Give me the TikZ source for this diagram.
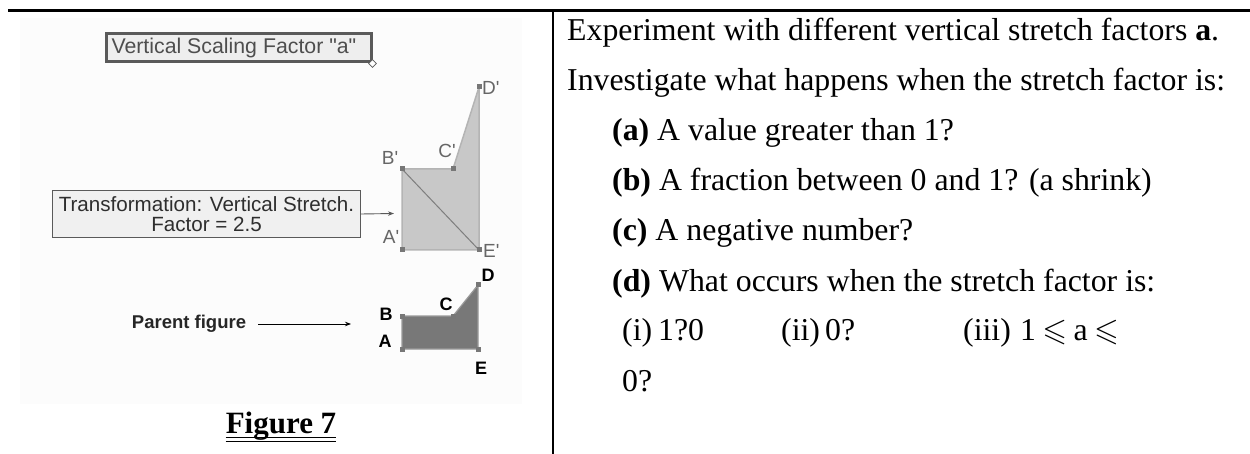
\documentclass[tikz,border=0pt]{standalone}
\usepackage{amssymb}
\usepackage{fontspec}
\setmainfont{Liberation Serif}
\newfontfamily\sansf{Liberation Sans}
\usetikzlibrary{arrows.meta,shapes.geometric}
\definecolor{panelbg}{HTML}{FCFCFC}
\definecolor{boxdark}{HTML}{5A5A5A}
\definecolor{boxfill}{HTML}{EEEEEE}
\definecolor{boxfilltwo}{HTML}{F0F0F0}
\definecolor{boxtext}{HTML}{4E4E4E}
\definecolor{tbtext}{HTML}{2E2E2E}
\definecolor{tfill}{HTML}{C8C8C8}
\definecolor{tedge}{HTML}{B4B4B4}
\definecolor{diagc}{HTML}{7E7E7E}
\definecolor{markgray}{HTML}{777777}
\definecolor{pfill}{HTML}{787878}
\definecolor{pedge}{HTML}{9A9A9A}
\definecolor{labgray}{HTML}{666666}
\begin{document}
\begin{tikzpicture}[x=1pt,y=-1pt,
  rtext/.style={anchor=base west, inner sep=0pt, font=\fontsize{31.8}{38}\selectfont},
  vmark/.style={rectangle, fill=#1, minimum size=5pt, inner sep=0pt},
  glab/.style={font=\sansf\fontsize{19}{19}\selectfont, text=labgray, inner sep=0pt},
  blab/.style={font=\sansf\bfseries\fontsize{18}{18}\selectfont, text=black, inner sep=0pt},
  tfig/.style={fill=tfill, draw=tedge, line width=1.5pt, line join=round},
  pfig/.style={fill=pfill, draw=pedge, line width=1.2pt, line join=round},
  conn/.style={draw=#1, line width=0.9pt, -{Stealth[length=6pt,width=4.5pt]}},
]
\useasboundingbox (0,0) rectangle (1250,454);
% panel background and table rules
\fill[panelbg] (20,18) rectangle (522,404);
\draw[line width=2.5pt] (8,10.5) -- (1250,10.5);
\draw[line width=2.2pt] (553,10.5) -- (553,454);

% Vertical scaling factor box
\node[draw=boxdark, line width=3pt, fill=boxfill, anchor=north west,
      minimum width=265pt, minimum height=28pt, inner sep=0pt,
      text=boxtext, font=\sansf\fontsize{21.3}{21}\selectfont] (vsf) at (104.5,32.5)
      {\makebox[262pt][l]{\hspace{4pt}Vertical Scaling Factor "a"}};
\node[diamond, draw=boxdark, fill=white, minimum size=8pt, inner sep=0pt, line width=0.8pt] (knob) at (vsf.south east) {};

% Transformation box
\node[draw=boxdark, line width=1pt, fill=boxfilltwo, anchor=north west,
      minimum width=308pt, minimum height=47pt, align=center, inner sep=0pt,
      font=\sansf\fontsize{20.6}{20.5}\selectfont, text=tbtext] (tb) at (52,190)
      {Transformation: Vertical Stretch.\\Factor = 2.5};
\coordinate (tbtip) at (394,213.5);
\draw[conn=boxdark] (tb.east) -- (tbtip);

% transformed figure
\coordinate (Ap) at (402,250);
\coordinate (Bp) at (402,169);
\coordinate (Cp) at (453,169);
\coordinate (Dp) at (479,87);
\coordinate (Ep) at (479,250);
\path[tfig] (Ap) -- (Bp) -- (Cp) -- (Dp) -- (Ep) -- cycle;
\draw[diagc, line width=1pt] (Bp) -- (Ep);
\foreach \p in {Ap,Bp,Cp,Dp,Ep} \node[vmark=markgray] at (\p) {};
\node[glab] (lBp) at (390,158) {B'};
\node[glab] (lCp) at (447,151) {C'};
\node[glab] (lAp) at (391,237) {A'};
\node[glab, anchor=west] (lEp) at (483,251) {E'};
\node[glab, anchor=west] (lDp) at (482,88) {D'};

% parent figure
\coordinate (A) at (402,349);
\coordinate (B) at (402,316);
\coordinate (C) at (453,316);
\coordinate (D) at (478,285);
\coordinate (E) at (478,349);
\path[pfig] (A) -- (B) -- (C) -- (D) -- (E) -- cycle;
\foreach \p in {A,B,C,D,E} \node[vmark=markgray] at (\p) {};
\node[blab] (lB) at (386,314) {B};
\node[blab] (lA) at (385,341) {A};
\node[blab] (lC) at (446,304) {C};
\node[blab] (lD) at (488,275) {D};
\node[blab] (lE) at (481,368) {E};

\node[inner sep=0pt, font=\sansf\bfseries\fontsize{18.5}{18}\selectfont, text=black!85] (pf) at (189,324) {Parent figure};
\coordinate (pftip) at (351,324);
\draw[conn=black, line width=0.8pt, shorten <=12pt] (pf.east) -- (pftip);

% caption
\node[anchor=base, inner sep=0pt, font=\bfseries\fontsize{31}{31}\selectfont] (fig7) at (281,433) {Figure 7};
\draw[line width=1.6pt] ([yshift=-4.5pt]fig7.base west) -- ([yshift=-4.5pt]fig7.base east);
\draw[line width=1.4pt] ([yshift=-8.2pt]fig7.base west) -- ([yshift=-8.2pt]fig7.base east);

% right column text
\node[rtext] (l1) at (567,41) {Experiment with different vertical stretch factors \textbf{a}.};
\node[rtext] (l2) at (567,91) {Investigate what happens when the stretch factor is:};
\node[rtext] (l3) at (612,141) {\textbf{(a)} A value greater than 1?};
\node[rtext] (l4) at (612,191) {\textbf{(b)} A fraction between 0 and 1? (a shrink)};
\node[rtext] (l5) at (612,241) {\textbf{(c)} A negative number?};
\node[rtext] (l6) at (612,291) {\textbf{(d)} What occurs when the stretch factor is:};
\node[rtext] (l7a) at (622,341) {(i)};
\node[rtext] (l7b) at (658,341) {1?0};
\node[rtext] (l7c) at (781,341) {(ii)};
\node[rtext] (l7d) at (825,341) {0?};
\node[rtext] (l7e) at (963,341) {(iii)};
\node[rtext] (l7f) at (1020,341) {1\hspace{0.2em}$\leqslant$\hspace{0.2em}a\hspace{0.2em}$\leqslant$};
\node[rtext] (l9) at (622,391) {0?};
\end{tikzpicture}
\end{document}
